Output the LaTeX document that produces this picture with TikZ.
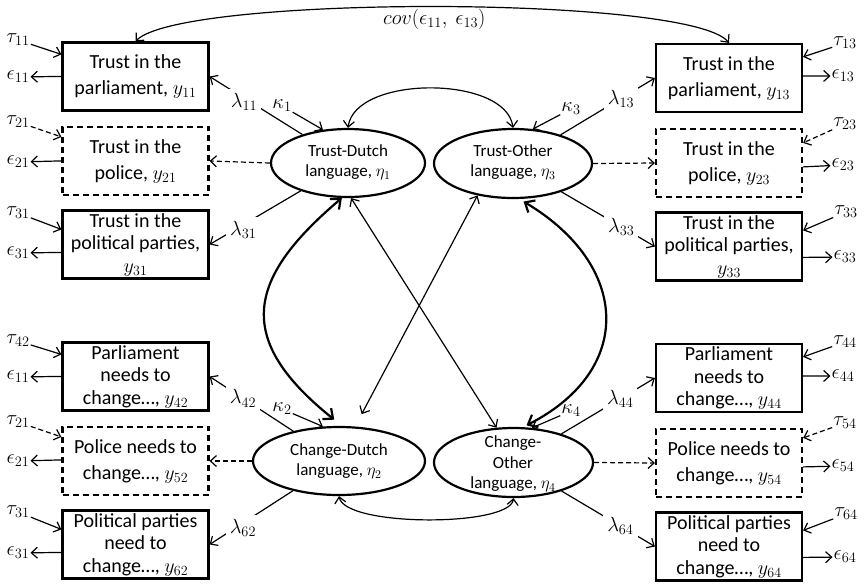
\RequirePackage{fix-cm}
\documentclass[tikz,border=0pt]{standalone}
\usepackage{fontspec}
\setmainfont{Carlito}
\usetikzlibrary{arrows.meta,calc,shapes.geometric}
\begin{document}
\begin{tikzpicture}[x=1pt,y=-1pt,
  obs/.style={draw, line width=2.2pt, minimum width=146pt, minimum height=68pt, align=center, inner sep=0pt},
  obs2/.style={obs, font=\fontsize{20}{26}\selectfont},
  obs3/.style={obs, font=\fontsize{20}{22.5}\selectfont},
  dsh/.style={dash pattern=on 6pt off 4pt},
  lat/.style={draw, ellipse, line width=2.2pt, inner sep=0pt},
  lattext/.style={align=center, inner sep=0pt, font=\fontsize{17}{20.5}\selectfont},
  sym/.style={inner sep=1pt, font=\fontsize{20.5}{24}\selectfont},
  lam/.style={sym, fill=white, inner sep=4pt},
  arr/.style={line width=1.2pt, -{Straight Barb[length=6pt,width=11pt]}},
  darr/.style={arr, dash pattern=on 5pt off 3pt},
  bi/.style={line width=1.2pt, {Straight Barb[length=6pt,width=11pt]}-{Straight Barb[length=6pt,width=11pt]}},
  thickbi/.style={line width=2.2pt, {Straight Barb[length=8pt,width=14pt]}-{Straight Barb[length=8pt,width=14pt]}},
]
\useasboundingbox (0,0) rectangle (864,584);

% observed indicators, left
\node[obs2] (y11) at (135.5,76.5) {Trust in the\\parliament, $y_{11}$};
\node[obs2,dsh] (y21) at (135.5,161) {Trust in the\\police, $y_{21}$};
\node[obs3] (y31) at (135.5,244.5) {Trust in the\\political parties,\\$y_{31}$};
\node[obs3] (y42) at (135.5,376.5) {Parliament\\needs to\\change…, $y_{42}$};
\node[obs2,dsh] (y52) at (135.5,461) {Police needs to\\change…, $y_{52}$};
\node[obs3] (y62) at (135.5,544.5) {Political parties\\need to\\change…, $y_{62}$};
% observed indicators, right
\node[obs2] (y13) at (729,78) {Trust in the\\parliament, $y_{13}$};
\node[obs2,dsh] (y23) at (729,163) {Trust in the\\police, $y_{23}$};
\node[obs3] (y33) at (729,246.5) {Trust in the\\political parties,\\$y_{33}$};
\node[obs3] (y44) at (729,378) {Parliament\\needs to\\change…, $y_{44}$};
\node[obs2,dsh] (y54) at (729,463) {Police needs to\\change…, $y_{54}$};
\node[obs3] (y64) at (729,546.5) {Political parties\\need to\\change…, $y_{64}$};

% latent variables
\node[lat, minimum width=154pt, minimum height=68pt] (e1) at (348,163) {};
\node[lattext] (e1t) at (348,162) {Trust-Dutch\\language, $\eta_1$};
\node[lat, minimum width=158pt, minimum height=69pt] (e3) at (513,163.5) {};
\node[lattext] (e3t) at (513,162) {Trust-Other\\language, $\eta_3$};
\node[lat, minimum width=172pt, minimum height=68pt] (e2) at (339,461) {};
\node[lattext] (e2t) at (339,461) {Change-Dutch\\language, $\eta_2$};
\node[lat, minimum width=159pt, minimum height=69pt] (e4) at (513.5,462.5) {};
\node[lattext] (e4t) at (513,464) {Change-\\Other\\language, $\eta_4$};

% intercept / error labels, left
\node[sym] (t11) at (18,40) {$\tau_{11}$};
\node[sym] (p11) at (18,77) {$\epsilon_{11}$};
\node[sym] (t21) at (18,122) {$\tau_{21}$};
\node[sym] (p21) at (18,162) {$\epsilon_{21}$};
\node[sym] (t31) at (18,213) {$\tau_{31}$};
\node[sym] (p31) at (18,253) {$\epsilon_{31}$};
\node[sym] (t42) at (18,341) {$\tau_{42}$};
\node[sym] (p42) at (18,377) {$\epsilon_{11}$};
\node[sym] (t52) at (18,422) {$\tau_{21}$};
\node[sym] (p52) at (18,461) {$\epsilon_{21}$};
\node[sym] (t62) at (18,512) {$\tau_{31}$};
\node[sym] (p62) at (18,553) {$\epsilon_{31}$};
% right
\node[sym] (t13) at (845,43) {$\tau_{13}$};
\node[sym] (p13) at (843,76) {$\epsilon_{13}$};
\node[sym] (t23) at (845,124) {$\tau_{23}$};
\node[sym] (p23) at (843,165) {$\epsilon_{23}$};
\node[sym] (t33) at (846,212) {$\tau_{33}$};
\node[sym] (p33) at (845,257) {$\epsilon_{33}$};
\node[sym] (t44) at (845,342) {$\tau_{44}$};
\node[sym] (p44) at (843,376) {$\epsilon_{44}$};
\node[sym] (t54) at (845,423) {$\tau_{54}$};
\node[sym] (p54) at (843,466) {$\epsilon_{54}$};
\node[sym] (t64) at (846,514) {$\tau_{64}$};
\node[sym] (p64) at (845,557) {$\epsilon_{64}$};

% kappa labels
\node[sym] (k1) at (282,106) {$\kappa_1$};
\node[sym] (k3) at (571,109) {$\kappa_3$};
\node[sym] (k2) at (282,409) {$\kappa_2$};
\node[sym] (k4) at (571,411) {$\kappa_4$};

% tau arrows, left
\draw[arr]  (t11) -- ($(y11.north west)+(0,13)$);
\draw[darr] (t21) -- ($(y21.north west)+(0,11)$);
\draw[arr]  (t31) -- ($(y31.north west)+(0,20)$);
\draw[arr]  (t42) -- ($(y42.north west)+(0,13)$);
\draw[darr] (t52) -- ($(y52.north west)+(0,11)$);
\draw[arr]  (t62) -- ($(y62.north west)+(0,20)$);
% epsilon arrows, left
\draw[arr] ($(y11.north west)+(0,35)$) -- (p11);
\draw[arr] ($(y21.north west)+(0,35)$) -- (p21);
\draw[arr] ($(y31.north west)+(0,43)$) -- (p31);
\draw[arr] ($(y42.north west)+(0,35)$) -- (p42);
\draw[arr] ($(y52.north west)+(0,34)$) -- (p52);
\draw[arr] ($(y62.north west)+(0,43)$) -- (p62);
% tau arrows, right
\draw[arr]  (t13) -- ($(y13.north east)+(0,14)$);
\draw[darr] (t23) -- ($(y23.north east)+(0,15)$);
\draw[arr]  (t33) -- ($(y33.north east)+(0,19)$);
\draw[arr]  (t44) -- ($(y44.north east)+(0,14)$);
\draw[darr] (t54) -- ($(y54.north east)+(0,10)$);
\draw[arr]  (t64) -- ($(y64.north east)+(0,19)$);
% epsilon arrows, right
\draw[arr] ($(y13.north east)+(0,33)$) -- (p13);
\draw[arr] ($(y23.north east)+(0,39)$) -- (p23);
\draw[arr] ($(y33.north east)+(0,46)$) -- (p33);
\draw[arr] ($(y44.north east)+(0,33)$) -- (p44);
\draw[arr] ($(y54.north east)+(0,39)$) -- (p54);
\draw[arr] ($(y64.north east)+(0,46)$) -- (p64);

% kappa arrows
\draw[arr] (k1) -- (e1.127);
\draw[arr] (k3) -- (e3.60);
\draw[arr] (k2) -- (e2.115);
\draw[arr] (k4) -- (e4.62);

% loadings
\draw[arr] (e1) -- node[lam, pos=0.63, yshift=-4pt] (l11) {$\lambda_{11}$} (y11.east);
\draw[darr] (e1.west) -- (y21.east);
\draw[arr] (e1) -- node[lam, pos=0.63, yshift=-5pt] (l31) {$\lambda_{31}$} (y31.east);
\draw[arr] (e3) -- node[lam, pos=0.64] (l13) {$\lambda_{13}$} (y13.west);
\draw[darr] (e3.east) -- (y23.west);
\draw[arr] (e3) -- node[lam, pos=0.64] (l33) {$\lambda_{33}$} (y33.west);
\draw[arr] (e2) -- node[lam, pos=0.6] (l42) {$\lambda_{42}$} (y42.east);
\draw[darr] (e2.west) -- (y52.east);
\draw[arr] (e2) -- node[lam, pos=0.6, yshift=-5pt] (l62) {$\lambda_{62}$} (y62.east);
\draw[arr] (e4) -- node[lam, pos=0.63] (l44) {$\lambda_{44}$} (y44.west);
\draw[darr] (e4.east) -- (y54.west);
\draw[arr] (e4) -- node[lam, pos=0.63] (l64) {$\lambda_{64}$} (y64.west);

% covariances
\draw[bi] (y11.north) .. controls (180,-5) and (690,-5) .. node[sym, pos=0.5, below=1pt] (cov) {$cov(\epsilon_{11},\ \epsilon_{13})$} (y13.north);
\draw[bi] (e1.north) .. controls (355,75) and (506,75) .. (e3.north);
\draw[bi] (e2.south) .. controls (345,527) and (510,527) .. (e4.south);
\draw[thickbi, shorten >=10pt] (e1.260) .. controls (245,280) and (235,340) .. (e2.85);
\draw[thickbi, shorten <=5pt, shorten >=4pt] (e3.280) .. controls (630,265) and (635,370) .. (e4.75);
\draw[bi] (e1.275) -- (e4.116);
\draw[bi, shorten >=14pt] (e3.222) -- (e2.65);
\end{tikzpicture}
\end{document}
